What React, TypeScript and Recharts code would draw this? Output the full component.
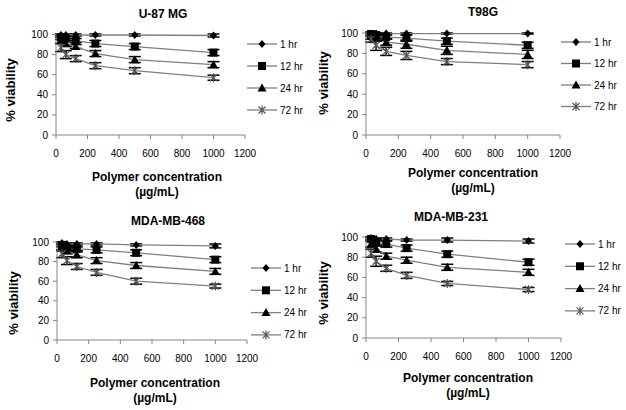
import { ErrorBar, Label, Legend, Line, LineChart, XAxis, YAxis } from 'recharts'

const FONT = '"Liberation Sans", Arial, sans-serif'

// polymer concentrations (µg/mL)
const CONC = [31.25, 62.5, 125, 250, 500, 1000]
const X_TICKS = [0, 200, 400, 600, 800, 1000, 1200]
const Y_TICKS = [0, 20, 40, 60, 80, 100]

const SERIES = [
  { key: 'h1', err: 'e1', name: '1 hr', shape: 'diamond' },
  { key: 'h12', err: 'e12', name: '12 hr', shape: 'square' },
  { key: 'h24', err: 'e24', name: '24 hr', shape: 'triangle' },
  { key: 'h72', err: 'e72', name: '72 hr', shape: 'star' },
]

// U-87 MG
const U87_1H = [99.5, 99.5, 99.5, 99.5, 99.5, 99]
const U87_12H = [97, 96, 94, 91, 88, 82]
const U87_24H = [94, 91, 88, 81, 75, 70]
const U87_72H = [87, 80, 76, 69, 64, 57]
const U87_ERR = [
  [1, 1, 1, 1, 1, 1.5],
  [2, 2, 2, 3, 3, 3],
  [3, 3, 2, 3, 3, 3],
  [4, 4, 3, 3, 3, 2.5],
]

// T98G
const T98_1H = [99.5, 99.5, 99.5, 99.5, 99.5, 99.5]
const T98_12H = [99, 98, 96, 95, 92, 88]
const T98_24H = [97, 95, 91, 89, 83, 79]
const T98_72H = [94, 88, 82, 78, 72, 69]
const T98_ERR = [
  [0.5, 0.5, 0.5, 0.5, 0.5, 0.5],
  [2, 2, 2, 3, 3, 3],
  [3, 3, 3, 4, 4, 4],
  [3, 5, 4, 4, 3, 3],
]

// MDA-MB-468
const M468_1H = [99, 98, 98, 98, 97, 96]
const M468_12H = [97, 94, 93, 92, 89, 82]
const M468_24H = [94, 91, 87, 81, 76, 70]
const M468_72H = [88, 81, 75, 69, 60, 55]
const M468_ERR = [
  [1, 1, 1, 1, 1, 2],
  [2, 2, 2, 3, 3, 3],
  [3, 3, 3, 3, 3, 3],
  [4, 4, 3, 3, 3, 2],
]

// MDA-MB-231
const M231_1H = [99, 98, 98, 97, 97, 96]
const M231_12H = [98, 95, 93, 89, 83, 75]
const M231_24H = [93, 88, 81, 77, 70, 65]
const M231_72H = [84, 76, 69, 62, 54, 48]
const M231_ERR = [
  [1, 1, 1, 1, 2, 2],
  [2, 3, 3, 3, 3, 3],
  [3, 3, 3, 3, 3, 3],
  [4, 5, 3, 3, 2, 2],
]

function buildRows(vals: number[][], errs: number[][]) {
  return CONC.map((x, i) => ({
    x,
    h1: vals[0][i], h12: vals[1][i], h24: vals[2][i], h72: vals[3][i],
    e1: errs[0][i], e12: errs[1][i], e24: errs[2][i], e72: errs[3][i],
  }))
}

const PANELS = [
  {
    title: 'U-87 MG', col: 0, row: 0,
    data: buildRows([U87_1H, U87_12H, U87_24H, U87_72H], U87_ERR),
    L: 56, R: 245, T: 34, B: 135, titleX: 163, titleY: 14,
    ylx: 10, yly: 90, xlx: 157, xly: 177, legX: 247, legY: 44, legGap: 22,
  },
  {
    title: 'T98G', col: 1, row: 0,
    data: buildRows([T98_1H, T98_12H, T98_24H, T98_72H], T98_ERR),
    L: 53, R: 247, T: 32, B: 135, titleX: 170, titleY: 12,
    ylx: 10, yly: 83, xlx: 160, xly: 173, legX: 248, legY: 42, legGap: 21.5,
  },
  {
    title: 'MDA-MB-468', col: 0, row: 1,
    data: buildRows([M468_1H, M468_12H, M468_24H, M468_72H], M468_ERR),
    L: 57, R: 247, T: 37, B: 135, titleX: 168, titleY: 16,
    ylx: 13, yly: 98, xlx: 155, xly: 178, legX: 251, legY: 63, legGap: 22.3,
  },
  {
    title: 'MDA-MB-231', col: 1, row: 1,
    data: buildRows([M231_1H, M231_12H, M231_24H, M231_72H], M231_ERR),
    L: 53, R: 248, T: 32, B: 133, titleX: 138, titleY: 12,
    ylx: 10, yly: 88, xlx: 155, xly: 173, legX: 252, legY: 39, legGap: 22.3,
  },
]

function Marker({ shape, x, y }: { shape: string; x: number; y: number }) {
  if (shape === 'diamond') {
    return <path d={`M${x},${y - 4}L${x + 3.5},${y}L${x},${y + 4}L${x - 3.5},${y}Z`} fill="#000" />
  }
  if (shape === 'square') {
    return <rect x={x - 4} y={y - 4} width={8} height={8} fill="#000" />
  }
  if (shape === 'triangle') {
    return <path d={`M${x},${y - 4.5}L${x + 4.5},${y + 3.5}L${x - 4.5},${y + 3.5}Z`} fill="#000" />
  }
  return (
    <path
      d={`M${x - 3.5},${y - 3.5}L${x + 3.5},${y + 3.5}M${x - 3.5},${y + 3.5}L${x + 3.5},${y - 3.5}M${x},${y - 4.5}L${x},${y + 4.5}`}
      stroke="#555"
      strokeWidth={1.2}
    />
  )
}

const renderDot = (shape: string) => (props: any) => {
  const { cx, cy, index } = props
  if (cx == null || cy == null) return <g key={`${shape}-${index}`} />
  return (
    <g key={`${shape}-${index}`}>
      <Marker shape={shape} x={cx} y={cy} />
    </g>
  )
}

function LegendBox({ gap }: { gap: number }) {
  return (
    <svg width={70} height={gap * 3 + 12} style={{ display: 'block', overflow: 'visible' }}>
      {SERIES.map((s, i) => {
        const y = 6 + i * gap
        return (
          <g key={s.key}>
            <line x1={0} x2={30} y1={y} y2={y} stroke="#7f7f7f" strokeWidth={1.3} />
            <Marker shape={s.shape} x={15} y={y} />
            <text x={33} y={y} dy="0.35em" fontSize={10} fill="#000" fontFamily={FONT}>
              {s.name}
            </text>
          </g>
        )
      })}
    </svg>
  )
}

function Panel({ p }: { p: (typeof PANELS)[number] }) {
  return (
    <div style={{ position: 'absolute', left: p.col * 313, top: p.row * 205, width: 313, height: 205 }}>
      <div
        style={{
          position: 'absolute', left: p.titleX - 100, top: p.titleY - 7, width: 200,
          textAlign: 'center', fontSize: 12, fontWeight: 'bold', lineHeight: '14px', fontFamily: FONT,
        }}
      >
        {p.title}
      </div>
      <LineChart
        width={313}
        height={205}
        data={p.data}
        margin={{ top: p.T, right: 313 - p.R, bottom: 0, left: 0 }}
        style={{ fontFamily: FONT }}
      >
        <XAxis
          dataKey="x"
          type="number"
          domain={[0, 1200]}
          ticks={X_TICKS}
          height={205 - p.B}
          stroke="#868686"
          tickSize={4}
          tickMargin={11}
          tick={{ fontSize: 10, fill: '#000' }}
        >
          <Label
            content={() => (
              <text textAnchor="middle" fontSize={12} fontWeight="bold" fill="#000" fontFamily={FONT}>
                <tspan x={p.xlx} y={p.xly + 4}>Polymer concentration</tspan>
                <tspan x={p.xlx} y={p.xly + 19}>(µg/mL)</tspan>
              </text>
            )}
          />
        </XAxis>
        <YAxis
          type="number"
          domain={[0, 100]}
          ticks={Y_TICKS}
          width={p.L}
          stroke="#868686"
          tickSize={4}
          tickMargin={4}
          tick={{ fontSize: 10, fill: '#000' }}
        >
          <Label
            content={() => (
              <text
                transform={`translate(${p.ylx},${p.yly}) rotate(-90)`}
                textAnchor="middle"
                dy="0.35em"
                fontSize={13}
                fontWeight="bold"
                fill="#000"
                fontFamily={FONT}
              >
                % viability
              </text>
            )}
          />
        </YAxis>
        <Legend
          layout="vertical"
          align="center"
          verticalAlign="middle"
          wrapperStyle={{ left: p.legX, top: p.legY - 6, width: 70 }}
          content={() => <LegendBox gap={p.legGap} />}
        />
        {SERIES.map((s) => (
          <Line
            key={s.key}
            type="linear"
            dataKey={s.key}
            name={s.name}
            stroke="#7f7f7f"
            strokeWidth={1.3}
            dot={renderDot(s.shape)}
            activeDot={false}
            isAnimationActive={false}
          >
            <ErrorBar dataKey={s.err} direction="y" width={6} stroke="#000" strokeWidth={1.5} />
          </Line>
        ))}
      </LineChart>
    </div>
  )
}

export default function App() {
  return (
    <div
      style={{
        position: 'absolute', left: 0, top: 0, width: 626, height: 410,
        background: '#fff', fontFamily: FONT, overflow: 'hidden',
      }}
    >
      {PANELS.map((p) => (
        <Panel key={p.title} p={p} />
      ))}
    </div>
  )
}
